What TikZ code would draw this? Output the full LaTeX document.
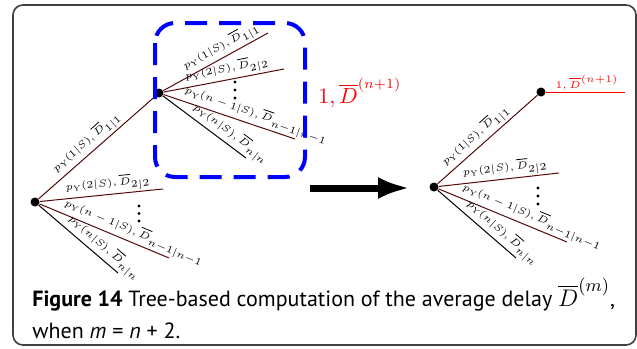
\documentclass[tikz,border=0pt]{standalone}
\usepackage{fontspec}
\setsansfont{PT Sans}
\usetikzlibrary{arrows.meta}
\definecolor{branch}{RGB}{85,10,10}
\newcommand\plbl[1]{$p_{\mathrm{Y}}(#1|S),\overline{D}_{#1|#1}$}

\begin{document}
\begin{tikzpicture}[
    x=0.5pt, y=-0.5pt,
    dot/.style={circle, fill, inner sep=0pt, minimum size=4.5pt},
    br/.style={draw=branch, line width=0.5pt},
    kbr/.style={draw=black, line width=0.5pt},
    lbl/.style={sloped, above, inner sep=0.6pt, font=\fontsize{5.4}{6}\selectfont},
    vdot/.style={circle, fill, inner sep=0pt, minimum size=1.6pt},
  ]
  \useasboundingbox (0,0) rectangle (637,348);
  \draw[rounded corners=5pt, line width=0.8pt, black!75] (13,5) rectangle (636,345);

  % left tree
  \node[dot] (a) at (35,202) {};
  \node[dot] (b) at (159,93) {};
  \coordinate (a2) at (163,189);
  \coordinate (a3) at (169,258);
  \coordinate (a4) at (118,273);
  \draw[br] (a) -- node[lbl, pos=0.47] {\plbl{1}} (b);
  \draw[br] (a) -- node[lbl, pos=0.56] {\plbl{2}} (a2);
  \draw[br] (a) -- node[lbl, pos=0.7] {\plbl{n-1}} (a3);
  \draw[kbr] (a) -- node[lbl, pos=0.74] {\plbl{n}} (a4);
  \foreach \y in {206,213.5,221} \node[vdot] at (139,\y) {};

  % subtree in the box
  \coordinate (b1) at (268,33);
  \coordinate (b2) at (284,69);
  \coordinate (b3) at (295,139);
  \coordinate (b4) at (246,158);
  \draw[br] (b) -- node[lbl, pos=0.6] {\plbl{1}} (b1);
  \draw[br] (b) -- node[lbl, pos=0.54] {\plbl{2}} (b2);
  \draw[br] (b) -- node[lbl, pos=0.68] {\plbl{n-1}} (b3);
  \draw[kbr] (b) -- node[lbl, pos=0.74] {\plbl{n}} (b4);
  \foreach \y in {82,90,98} \node[vdot] at (235,\y) {};
  \draw[blue, line width=2pt, dash pattern=on 11pt off 6pt, rounded corners=10pt]
    (155,23) rectangle (305,177);
  \node[red, anchor=base west, inner sep=0pt, font=\fontsize{10.5}{12}\selectfont] (nl) at (318,103)
    {$1,\overline{D}^{(n+1)}$};

  % arrow
  \coordinate (p) at (310,188);
  \coordinate (q) at (410,188);
  \draw[line width=3.5pt, -{Latex[length=16pt,width=11pt]}] (p) -- (q);

  % right tree
  \node[dot] (c) at (434,187) {};
  \node[dot] (d) at (541,92) {};
  \coordinate (e) at (625,92);
  \coordinate (c2) at (559,173);
  \coordinate (c3) at (567,242);
  \coordinate (c4) at (516,258);
  \draw[br] (c) -- node[lbl, pos=0.45] {\plbl{1}} (d);
  \draw[red, line width=0.5pt] (d) -- node[lbl, pos=0.52] {$1,\overline{D}^{(n+1)}$} (e);
  \draw[br] (c) -- node[lbl, pos=0.56] {\plbl{2}} (c2);
  \draw[br] (c) -- node[lbl, pos=0.7] {\plbl{n-1}} (c3);
  \draw[kbr] (c) -- node[lbl, pos=0.74] {\plbl{n}} (c4);
  \foreach \y in {188,196,204} \node[vdot] at (538,\y) {};

  % caption
  \node[anchor=base west, align=left, inner sep=0pt, font=\sffamily\fontsize{11}{16}\selectfont] (cap) at (32,338)
    {\textbf{Figure 14} Tree-based computation of the average delay {\fontsize{13}{16}\selectfont$\overline{D}^{(m)}$},\\
     when \textit{m} = \textit{n} + 2.};
\end{tikzpicture}
\end{document}
